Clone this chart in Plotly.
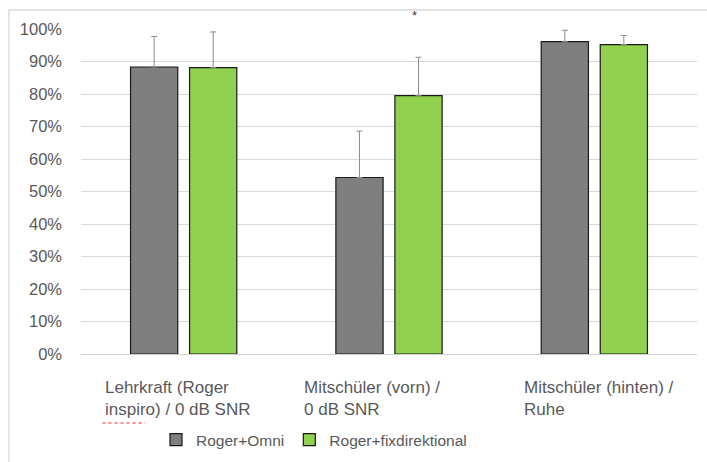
import plotly.graph_objects as go

categories = ["Lehrkraft (Roger inspiro) / 0 dB SNR",
              "Mitschüler (vorn) / 0 dB SNR",
              "Mitschüler (hinten) / Ruhe"]
label_lines = [["Lehrkraft (Roger", "inspiro) / 0 dB SNR"],
               ["Mitschüler (vorn) /", "0 dB SNR"],
               ["Mitschüler (hinten) /", "Ruhe"]]
series_names = ["Roger+Omni", "Roger+fixdirektional"]
omni_values = [0.883, 0.543, 0.961]
omni_errors = [0.094, 0.143, 0.035]
fix_values = [0.881, 0.795, 0.952]
fix_errors = [0.110, 0.118, 0.028]
significance_marks = ["", "*", ""]

FONT = "Liberation Sans"
TXT = "#595959"

fig = go.Figure()
for name, vals, errs, color in [(series_names[0], omni_values, omni_errors, "#7f7f7f"),
                                (series_names[1], fix_values, fix_errors, "#92d050")]:
    fig.add_trace(go.Bar(
        x=categories, y=vals, name=name,
        marker=dict(color=color, line=dict(color="#1a1a1a", width=1.2)),
        error_y=dict(type="data", symmetric=False, array=errs,
                     arrayminus=[0] * len(errs), color="#8c8c8c",
                     thickness=1, width=3),
    ))

L, R, T, B = 81, 10, 29, 108
W, H = 707, 462
pw, ph = W - L - R, H - T - B

def px_x(x):
    return (x - L) / pw

def px_y(y):
    return (H - B - y) / ph

annotations = []
xshifts = [-81, -87.3, -72.6]
for cat, lines, xs in zip(categories, label_lines, xshifts):
    annotations.append(dict(
        x=cat, xref="x", y=px_y(376), yref="paper", xshift=xs,
        xanchor="left", yanchor="top", align="left", showarrow=False,
        text="<br>".join(lines), font=dict(family=FONT, size=17, color=TXT)))
for cat, mark in zip(categories, significance_marks):
    if mark:
        annotations.append(dict(
            x=cat, xref="x", xshift=25, y=px_y(16), yref="paper",
            yanchor="middle", showarrow=False, text=mark,
            font=dict(family=FONT, size=13, color="#404040")))

shapes = [
    dict(type="rect", xref="paper", yref="paper",
         x0=px_x(9), x1=1.2, y0=-0.8, y1=px_y(10),
         line=dict(color="#d9d9d9", width=1.3), fillcolor="rgba(0,0,0,0)", layer="below"),
    dict(type="line", xref="paper", yref="paper",
         x0=px_x(102.5), x1=px_x(145), y0=px_y(423), y1=px_y(423),
         line=dict(color="#ff2020", width=1, dash="dot")),
]

fig.update_layout(
    width=W, height=H,
    margin=dict(l=L, r=R, t=T, b=B, pad=0, autoexpand=False),
    paper_bgcolor="white", plot_bgcolor="white",
    barmode="group", bargap=0.425, bargroupgap=0.2,
    font=dict(family=FONT, color=TXT),
    showlegend=True,
    legend=dict(orientation="h", xref="container", x=156 / W, xanchor="left",
                yref="container", y=1 - 440 / H, yanchor="middle",
                font=dict(family=FONT, size=15.5, color=TXT),
                traceorder="normal"),
    annotations=annotations,
    shapes=shapes,
)
fig.update_xaxes(showticklabels=False, showgrid=False, showline=False,
                 zeroline=False, ticks="")
fig.update_yaxes(range=[0, 1], dtick=0.1, tickformat=".0%",
                 showgrid=True, gridcolor="#d9d9d9", gridwidth=1,
                 zeroline=True, zerolinecolor="#d0d0d0", zerolinewidth=1,
                 showline=False, ticks="", ticklabelstandoff=18,
                 tickfont=dict(family=FONT, size=16.5, color=TXT))

fig.write_html("out.html", config={"displayModeBar": False},
               post_script="document.body.style.margin='0';document.body.style.overflow='hidden';")
